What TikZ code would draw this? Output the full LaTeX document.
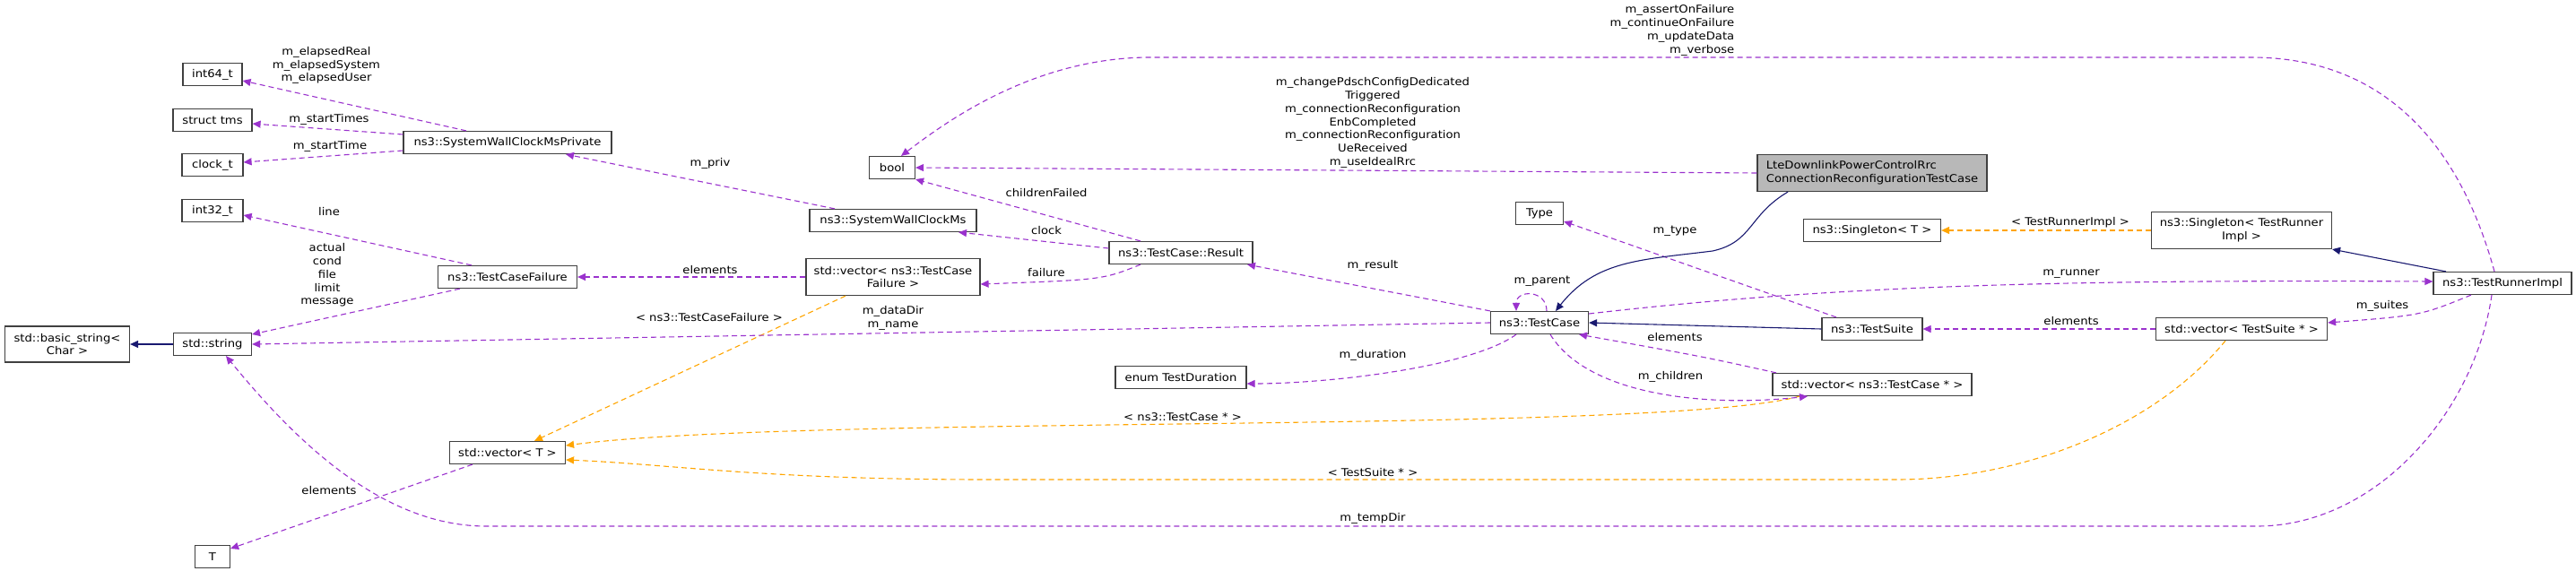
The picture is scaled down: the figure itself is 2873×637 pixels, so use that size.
\documentclass[tikz,border=0pt]{standalone}
\usepackage{fontspec}
\setmainfont[FakeStretch=1.22]{DejaVu Sans Condensed}
\usetikzlibrary{arrows.meta}
\definecolor{purp}{HTML}{9A32CD}
\definecolor{orng}{HTML}{FFA500}
\definecolor{navy}{HTML}{191970}
\begin{document}
\begin{tikzpicture}[x=1pt,y=-1pt,
  every node/.style={font=\fontsize{12}{14.8}\selectfont, align=center, inner sep=0pt},
  box/.style={draw=black!75, line width=1.2pt, fill=white, minimum height=25, minimum width=#1},
  tip/.style={-{Triangle[length=9pt,width=8pt]}},
  pe/.style={tip, draw=purp, line width=1.1pt, dash pattern=on 6pt off 4pt},
  oe/.style={tip, draw=orng, line width=1.1pt, dash pattern=on 6pt off 4pt},
  ne/.style={tip, draw=navy, line width=1.1pt}]
\useasboundingbox (0,0) rectangle (2873,637);
% nodes
\node[box=66] (int64) at (237,83) {int64\_t};
\node[box=88] (tms) at (237,134) {struct tms};
\node[box=68] (clk) at (237,184) {clock\_t};
\node[box=232] (priv) at (566,159) {ns3::SystemWallClockMsPrivate};
\node[box=68] (int32) at (237,235) {int32\_t};
\node[box=155] (tcf) at (566,309) {ns3::TestCaseFailure};
\node[box=139, minimum height=40] (basic) at (75,384) {std::basic\_string\textless\\Char \textgreater};
\node[box=87] (str) at (237,384) {std::string};
\node[box=129] (vt) at (566,505) {std::vector\textless{} T \textgreater};
\node[box=39] (t) at (237,621) {T};
\node[box=51] (bool) at (995,187) {bool};
\node[box=186] (swcm) at (996,246) {ns3::SystemWallClockMs};
\node[box=194, minimum height=41] (vtcf) at (996,309) {std::vector\textless{} ns3::TestCase\\Failure \textgreater};
\node[box=160] (res) at (1317,282) {ns3::TestCase::Result};
\node[box=53] (type) at (1717,238) {Type};
\node[box=109] (tc) at (1717,360) {ns3::TestCase};
\node[box=146] (dur) at (1317,421) {enum TestDuration};
\node[box=256, minimum height=41, fill=black!28, align=left] (lte) at (2088,193) {LteDownlinkPowerControlRrc\\ConnectionReconfigurationTestCase};
\node[box=153] (sgT) at (2088,257) {ns3::Singleton\textless{} T \textgreater};
\node[box=201, minimum height=41] (sgtri) at (2500,257) {ns3::Singleton\textless{} TestRunner\\Impl \textgreater};
\node[box=154] (tri) at (2791,316) {ns3::TestRunnerImpl};
\node[box=112] (ts) at (2088,367) {ns3::TestSuite};
\node[box=191] (vts) at (2500,367) {std::vector\textless{} TestSuite * \textgreater};
\node[box=222] (vtc) at (2088,429) {std::vector\textless{} ns3::TestCase * \textgreater};
% edges
\draw[pe] ([xshift=-65]swcm.north) -- ([xshift=65]priv.south);
\draw[pe] ([xshift=-46]priv.north) -- ([yshift=-7]int64.east);
\draw[pe] ([yshift=9]priv.west) -- ([yshift=-4]tms.east);
\draw[pe] ([yshift=-9]priv.west) -- ([yshift=3]clk.east);
\draw[pe] ([xshift=-40]tcf.north) -- ([yshift=-5]int32.east);
\draw[pe] ([xshift=-53]tcf.south) -- ([yshift=11]str.east);
\draw[pe] (vtcf.west) -- (tcf.east);
\draw[ne] (str.west) -- (basic.east);
\draw[oe] ([xshift=-53]vtcf.south) -- ([xshift=30]vt.north);
\draw[pe] ([xshift=-39]vt.south) -- ([yshift=9]t.east);
\draw[pe] (lte.west) -- (bool.east);
\draw[pe] ([xshift=-45]res.north) -- (bool.south east);
\draw[pe] ([yshift=5]res.west) -- ([xshift=73]swcm.south);
\draw[pe] ([xshift=-45]res.south) .. controls (1230,312) .. ([yshift=-8]vtcf.east);
\draw[pe] (tc.north west) -- ([xshift=74]res.south);
\draw[pe] ([xshift=8]tc.north) .. controls ([xshift=8,yshift=24]tc.north) and ([xshift=-26,yshift=24]tc.north) .. ([xshift=-26]tc.north);
\draw[pe] (tc.west) -- (str.east);
\draw[pe] ([xshift=-26]tc.south) .. controls (1640,410) and (1480,428) .. ([yshift=-7]dur.east);
\draw[oe] ([xshift=-81]vtc.south) .. controls (1850,485) and (900,462) .. ([yshift=8]vt.east);
\draw[oe] ([xshift=-18]vts.south) .. controls (2400,480) and (2250,535) .. (2115,535) -- (1100,535) .. controls (850,535) and (750,518) .. ([yshift=-8]vt.east);
\draw[pe] ([xshift=-12]tri.south) .. controls (2760,460) and (2650,587) .. (2517,587) -- (542,587) .. controls (420,587) and (320,480) .. ([xshift=15]str.south);
\draw[pe] ([xshift=-9]tri.north) .. controls (2740,150) and (2650,64) .. (2511,64) -- (1283,64) .. controls (1150,64) and (1050,140) .. ([xshift=10]bool.north);
\draw[pe] ([yshift=10]tc.east) .. controls (2050,318) and (2300,312) .. ([yshift=2]tri.west);
\draw[pe] ([xshift=-40]ts.north) -- ([yshift=-9]type.east);
\draw[ne] (ts.west) -- (tc.east);
\draw[pe] (vts.west) -- (ts.east);
\draw[pe] ([xshift=-35]tri.south) .. controls (2700,352) .. ([yshift=7]vts.east);
\draw[pe] ([xshift=-107]vtc.north) .. controls (1900,398) .. ([xshift=44]tc.south);
\draw[pe] ([xshift=12]tc.south) .. controls (1770,440) and (1900,455) .. ([xshift=-72]vtc.south);
\draw[ne] ([xshift=-94]lte.south) .. controls (1950,240) and (1955,270) .. (1910,280) .. controls (1830,290) and (1780,290) .. ([xshift=18]tc.north);
\draw[ne] ([xshift=-63]tri.north) -- (sgtri.south east);
\draw[oe] (sgtri.west) -- (sgT.east);
% labels
\node (l1) at (364,73) {m\_elapsedReal\\m\_elapsedSystem\\m\_elapsedUser};
\node (l2) at (367,133) {m\_startTimes};
\node (l3) at (368,163) {m\_startTime};
\node (l4) at (792,182) {m\_priv};
\node (l5) at (367,236) {line};
\node (l6) at (365,307) {actual\\cond\\file\\limit\\message};
\node (l7) at (792,301) {elements};
\node (l8) at (791,354) {\textless{} ns3::TestCaseFailure \textgreater};
\node (l9) at (367,547) {elements};
\node[align=right] (l10) at (1865,34) {m\_assertOnFailure\\m\_continueOnFailure\\m\_updateData\\m\_verbose};
\node (l11) at (1531,137) {m\_changePdschConfigDedicated\\Triggered\\m\_connectionReconfiguration\\EnbCompleted\\m\_connectionReconfiguration\\UeReceived\\m\_useIdealRrc};
\node (l12) at (1167,215) {childrenFailed};
\node (l13) at (1167,257) {clock};
\node (l14) at (1167,304) {failure};
\node (l15) at (1531,296) {m\_result};
\node (l16) at (1720,314) {m\_parent};
\node (l17) at (996,355) {m\_dataDir\\m\_name};
\node (l18) at (1531,396) {m\_duration};
\node (l19) at (1319,465) {\textless{} ns3::TestCase * \textgreater};
\node (l20) at (1531,527) {\textless{} TestSuite * \textgreater};
\node (l21) at (1531,578) {m\_tempDir};
\node (l22) at (2309,248) {\textless{} TestRunnerImpl \textgreater};
\node (l23) at (2310,306) {m\_runner};
\node (l24) at (2657,341) {m\_suites};
\node (l25) at (2310,358) {elements};
\node (l26) at (1868,258) {m\_type};
\node (l27) at (1868,376) {elements};
\node (l28) at (1863,420) {m\_children};
\end{tikzpicture}
\end{document}
